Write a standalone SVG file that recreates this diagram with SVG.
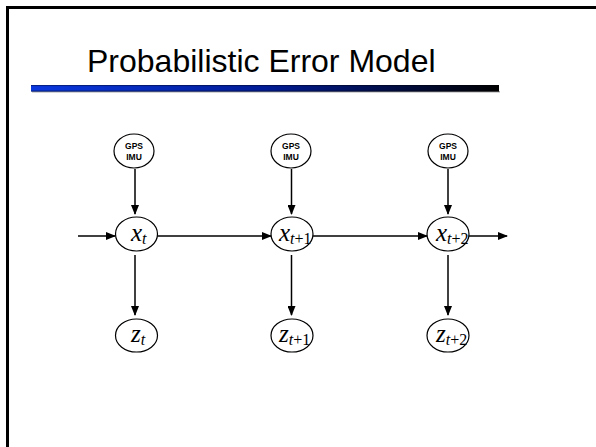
<svg xmlns="http://www.w3.org/2000/svg" width="596" height="447" viewBox="0 0 596 447">
<style>
.node{fill:#fff;stroke:#000;stroke-width:1.2}
.gps{font-family:"Liberation Sans",Arial,sans-serif;font-weight:bold;font-size:8.5px;text-anchor:middle;fill:#000}
.var{font-family:"Liberation Serif","Times New Roman",serif;font-style:italic;font-size:25px;fill:#000}
.sub{font-size:16px}
.up{font-style:normal}
.edge{stroke:#000;stroke-width:1.5;fill:none;marker-end:url(#ah)}
</style>
<defs>
<marker id="ah" markerWidth="10" markerHeight="8" refX="9" refY="4" orient="auto" markerUnits="userSpaceOnUse">
<path d="M0,0 L10,4 L0,8 Z" fill="#000"/>
</marker>
<linearGradient id="bar" x1="0" y1="0" x2="1" y2="0">
<stop offset="0" stop-color="#0a38e0"/>
<stop offset="0.5" stop-color="#011c96"/>
<stop offset="1" stop-color="#000"/>
</linearGradient>
<linearGradient id="shine" x1="0" y1="0" x2="0" y2="1">
<stop offset="0" stop-color="#000" stop-opacity="0.55"/>
<stop offset="0.25" stop-color="#000" stop-opacity="0"/>
<stop offset="0.75" stop-color="#000" stop-opacity="0"/>
<stop offset="1" stop-color="#000" stop-opacity="0.55"/>
</linearGradient>
</defs>
<rect width="596" height="447" fill="#fff"/>
<g id="frame">
<path d="M7.5,447 V7.5 H596" fill="none" stroke="#000" stroke-width="3"/>
</g>
<g id="title">
<text x="87" y="72" font-family="Liberation Sans,Arial,sans-serif" font-size="32" fill="#000">Probabilistic Error Model</text>
<rect x="32" y="91" width="468" height="1.5" fill="#aaa"/>
<rect x="31" y="85" width="468" height="6.5" fill="url(#bar)"/>
<rect x="31" y="85" width="468" height="6.5" fill="url(#shine)"/>
</g>
<g id="connectors">
<line class="edge" x1="135" y1="169" x2="135" y2="214"/>
<line class="edge" x1="291.5" y1="169" x2="291.5" y2="214"/>
<line class="edge" x1="448" y1="169" x2="448" y2="214"/>
<line class="edge" x1="78" y1="236" x2="115" y2="236"/>
<line class="edge" x1="157" y1="236" x2="271" y2="236"/>
<line class="edge" x1="313" y1="236" x2="427" y2="236"/>
<line class="edge" x1="469" y1="236" x2="507" y2="236"/>
<line class="edge" x1="135" y1="255" x2="135" y2="315"/>
<line class="edge" x1="291.5" y1="255" x2="291.5" y2="315"/>
<line class="edge" x1="448" y1="255" x2="448" y2="315"/>
</g>
<g id="gps1"><ellipse class="node" cx="134" cy="151" rx="20" ry="17"/><text class="gps" x="134" y="148.5">GPS</text><text class="gps" x="134" y="159.5">IMU</text></g>
<g id="gps2"><ellipse class="node" cx="291" cy="151" rx="20" ry="17"/><text class="gps" x="291" y="148.5">GPS</text><text class="gps" x="291" y="159.5">IMU</text></g>
<g id="gps3"><ellipse class="node" cx="448" cy="151" rx="20" ry="17"/><text class="gps" x="448" y="148.5">GPS</text><text class="gps" x="448" y="159.5">IMU</text></g>
<g id="x1"><ellipse class="node" cx="136.5" cy="234" rx="21" ry="17"/><text class="var" x="131" y="241">x<tspan class="sub" dy="3">t</tspan></text></g>
<g id="x2"><ellipse class="node" cx="292" cy="234" rx="21" ry="17"/><text class="var" x="279" y="241">x<tspan class="sub" dy="3">t<tspan class="up">+1</tspan></tspan></text></g>
<g id="x3"><ellipse class="node" cx="448" cy="234" rx="21" ry="17"/><text class="var" x="436" y="241">x<tspan class="sub" dy="3">t<tspan class="up">+2</tspan></tspan></text></g>
<g id="z1"><ellipse class="node" cx="136.5" cy="335.5" rx="21" ry="16.5"/><text class="var" x="131" y="342">z<tspan class="sub" dy="3">t</tspan></text></g>
<g id="z2"><ellipse class="node" cx="292" cy="335.5" rx="21" ry="16.5"/><text class="var" x="279" y="342">z<tspan class="sub" dy="3">t<tspan class="up">+1</tspan></tspan></text></g>
<g id="z3"><ellipse class="node" cx="448" cy="335.5" rx="21" ry="16.5"/><text class="var" x="436" y="342">z<tspan class="sub" dy="3">t<tspan class="up">+2</tspan></tspan></text></g>
</svg>
